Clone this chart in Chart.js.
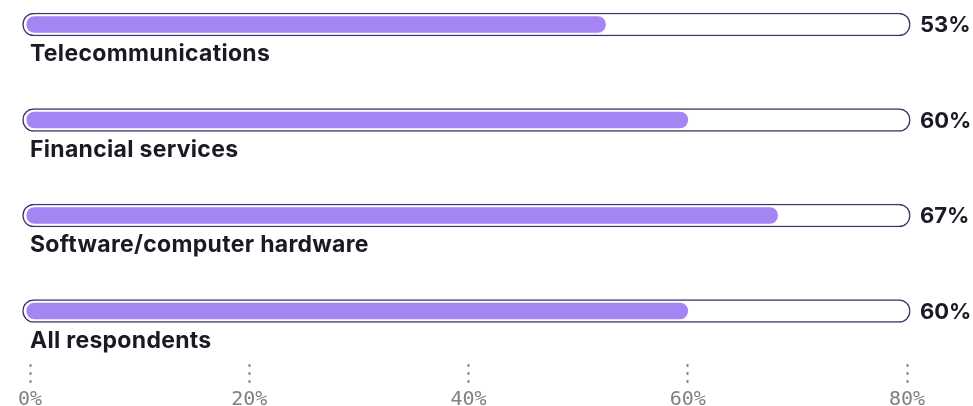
<!DOCTYPE html>
<html>
<head>
<meta charset="utf-8">
<script src="https://cdn.jsdelivr.net/npm/chart.js@4/dist/chart.umd.min.js"></script>
<style>
  html, body { margin: 0; padding: 0; background: #fff; }
  #wrap { width: 973px; height: 406px; }
</style>
</head>
<body>
<div id="wrap"><canvas id="industryChart"></canvas></div>
<script>
// data
const categories = ['Telecommunications', 'Financial services', 'Software/computer hardware', 'All respondents'];
const barValues = [52.5, 60, 68.2, 60];
const valueLabels = ['53%', '60%', '67%', '60%'];
const xTicks = [0, 20, 40, 60, 80];

const trackData = categories.map((c, i) => ({ y: i, x: [-0.68, 80.3] }));
const fillData = categories.map((c, i) => ({ y: i, x: [-0.3, barValues[i]] }));

// category names under each bar, percentages to the right
const rowText = {
    id: 'rowText',
    afterDatasetsDraw(chart) {
        const ctx = chart.ctx;
        const xs = chart.scales.x;
        const ys = chart.scales.y;
        ctx.save();
        ctx.fillStyle = '#1a1a24';
        categories.forEach((c, i) => {
            const y = ys.getPixelForValue(i);
            ctx.font = '700 23px Inter';
            ctx.letterSpacing = '0.3px';
            ctx.textBaseline = 'alphabetic';
            ctx.textAlign = 'left';
            ctx.fillText(c, xs.getPixelForValue(0), y + 37);
            ctx.font = '700 22px Inter';
            ctx.letterSpacing = '0px';
            ctx.textBaseline = 'middle';
            ctx.fillText(valueLabels[i], xs.right + 13, y + 1);
        });
        ctx.restore();
    }
};

new Chart(document.getElementById('industryChart'), {
    type: 'bar',
    data: {
        datasets: [{
            data: fillData,
            backgroundColor: '#a584f4',
            borderWidth: 0,
            borderRadius: 8,
            borderSkipped: false,
            barThickness: 16,
            grouped: false,
            clip: false,
            order: 1
        }, {
            data: trackData,
            backgroundColor: '#ffffff',
            borderColor: '#3f3670',
            borderWidth: 1.5,
            borderRadius: 12,
            borderSkipped: false,
            barThickness: 23,
            grouped: false,
            clip: false,
            order: 2
        }]
    },
    plugins: [rowText],
    options: {
        indexAxis: 'y',
        responsive: true,
        maintainAspectRatio: false,
        animation: false,
        layout: {
            padding: { left: 30, right: 66, top: 0, bottom: -8 }
        },
        scales: {
            x: {
                min: 0,
                max: 80,
                afterBuildTicks(scale) {
                    scale.ticks = xTicks.map(v => ({ value: v }));
                },
                border: { display: false },
                grid: {
                    drawOnChartArea: false,
                    drawTicks: true,
                    tickLength: 22,
                    tickWidth: 2,
                    tickColor: '#8a8a8a',
                    tickBorderDash: [3, 5]
                },
                ticks: {
                    padding: 4,
                    color: '#808080',
                    font: { family: 'DejaVu Sans Mono', size: 20, lineHeight: 1 },
                    callback: v => v + '%'
                }
            },
            y: {
                type: 'linear',
                reverse: true,
                offset: false,
                min: -0.2565,
                max: 3.555,
                display: false
            }
        },
        plugins: {
            legend: { display: false },
            tooltip: { enabled: false }
        }
    }
});
</script>
</body>
</html>
